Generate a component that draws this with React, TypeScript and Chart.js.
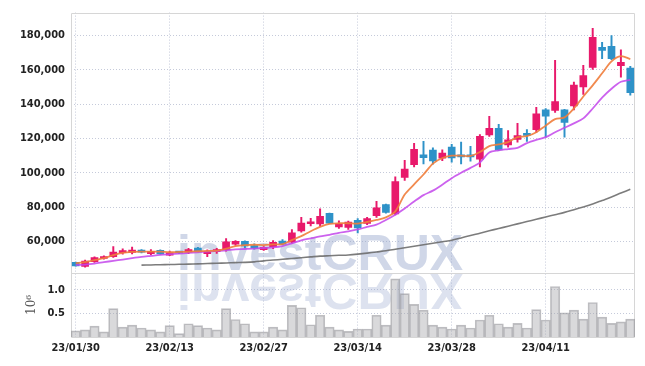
import React, { useEffect, useRef } from 'react';
import { Chart, registerables } from 'chart.js';

Chart.register(...registerables);

const DATES = [
  '23/01/30', '23/01/31', '23/02/01', '23/02/02', '23/02/03',
  '23/02/06', '23/02/07', '23/02/08', '23/02/09', '23/02/10',
  '23/02/13', '23/02/14', '23/02/15', '23/02/16', '23/02/17',
  '23/02/20', '23/02/21', '23/02/22', '23/02/23', '23/02/24',
  '23/02/27', '23/02/28', '23/03/02', '23/03/03',
  '23/03/06', '23/03/07', '23/03/08', '23/03/09', '23/03/10',
  '23/03/13', '23/03/14', '23/03/15', '23/03/16', '23/03/17',
  '23/03/20', '23/03/21', '23/03/22', '23/03/23', '23/03/24',
  '23/03/27', '23/03/28', '23/03/29', '23/03/30', '23/03/31',
  '23/04/03', '23/04/04', '23/04/05', '23/04/06', '23/04/07',
  '23/04/10', '23/04/11', '23/04/12', '23/04/13', '23/04/14',
  '23/04/17', '23/04/18', '23/04/19', '23/04/20', '23/04/21',
  '23/04/24',
];

const OPEN = [
  47800, 45400, 48200, 50000, 51100, 53400, 53500, 54400, 52900, 54800,
  52000, 53400, 53700, 56100, 52900, 54000, 55100, 58300, 60000, 57500,
  55200, 56900, 60200, 59600, 66100, 70300, 70200, 76300, 68400, 68100,
  72300, 70400, 75000, 81500, 76000, 97300, 104800, 110500, 113300, 108500,
  115000, 110500, 110300, 107900, 122100, 125900, 116300, 119400, 123000, 125200,
  136700, 136300, 136700, 139000, 150000, 161500, 173200, 173800, 162500, 161100,
];
const HIGH = [
  48000, 49100, 51000, 51600, 56900, 55700, 56700, 55200, 55200, 55000,
  54300, 54000, 56000, 56500, 55000, 56000, 61700, 60500, 60300, 58500,
  57000, 60400, 61000, 66900, 74000, 73500, 79000, 76500, 72000, 71800,
  73300, 74000, 83300, 81800, 97700, 107300, 117100, 118300, 114500, 113400,
  116600, 117900, 115400, 122300, 132900, 128200, 124600, 128800, 125200, 138200,
  137500, 165600, 137000, 152900, 162700, 184200, 176100, 180000, 171700, 162100,
];
const LOW = [
  45500, 44900, 47800, 49600, 50600, 52500, 52700, 53300, 52300, 52500,
  51600, 52800, 52900, 53800, 51100, 53000, 54300, 57700, 56200, 55500,
  54800, 55800, 58000, 58900, 65300, 69000, 68900, 70300, 67500, 67000,
  65000, 69800, 74000, 76500, 75500, 95500, 103400, 105200, 105000, 107000,
  106200, 105200, 106700, 103400, 121200, 113000, 115000, 117900, 118300, 123600,
  120800, 135200, 120800, 136700, 145700, 160200, 166500, 166000, 155800, 145200,
];
const CLOSE = [
  45700, 48500, 50500, 51100, 53800, 54000, 54900, 53700, 54200, 52700,
  53300, 53200, 55200, 54200, 54000, 54700, 59800, 60000, 57300, 56000,
  56500, 59400, 58300, 65000, 70600, 71100, 74600, 70600, 70200, 71300,
  67900, 73300, 79600, 76900, 94800, 102100, 113700, 108800, 106900, 111500,
  108600, 109300, 109300, 121300, 125900, 113400, 119200, 121700, 121800, 134400,
  133000, 141500, 129400, 151200, 156700, 179000, 171400, 166500, 164400, 146700,
];

// volume, in millions of shares
const VOLUME = [
  0.13, 0.15, 0.23, 0.11, 0.60, 0.21, 0.25, 0.19, 0.15, 0.11,
  0.24, 0.07, 0.28, 0.24, 0.19, 0.15, 0.60, 0.37, 0.28, 0.11,
  0.11, 0.21, 0.15, 0.67, 0.62, 0.26, 0.46, 0.21, 0.15, 0.12,
  0.17, 0.17, 0.46, 0.25, 1.23, 0.92, 0.69, 0.57, 0.25, 0.21,
  0.17, 0.25, 0.19, 0.36, 0.46, 0.28, 0.21, 0.29, 0.19, 0.58,
  0.36, 1.07, 0.51, 0.57, 0.38, 0.73, 0.42, 0.29, 0.32, 0.38,
];

const MA_SHORT = [
  47310, 47880, 49040, 50190, 51920, 53250, 53830, 54000, 54000, 54000,
  53660, 53830, 54000, 54230, 54410, 54580, 55800, 57290, 57870, 58040,
  57870, 58230, 58400, 60750, 63050, 65940, 68440, 70170, 70560, 70560,
  70380, 71300, 72470, 74020, 77480, 87300, 93230, 99000, 105350, 108630,
  109960, 109960, 109790, 112100, 115560, 116540, 117870, 120750, 121330, 123640,
  127500, 131310, 132290, 137500, 144500, 151000, 158000, 165000, 168000, 166300,
];
const MA_MID = [
  46160, 46500, 47080, 47880, 48640, 49390, 50200, 50940, 51520, 52100,
  52500, 52850, 53250, 53660, 54000, 54410, 54810, 55390, 55560, 55750,
  56140, 56540, 57290, 58840, 60580, 61740, 62890, 63850, 65000, 65770,
  66930, 68430, 69800, 72470, 75550, 79220, 83250, 86980, 89600, 93060,
  96810, 99980, 102870, 105940, 111810, 113080, 113830, 114580, 117300, 119200,
  120750, 123640, 126230, 128830, 131710, 137480, 143830, 149020, 153060, 154210,
];
const MA_LONG = [
  null, null, null, null, null, null, null, 46160, 46270, 46390,
  46500, 46620, 46730, 46900, 47080, 47250, 47420, 47600, 47770, 48060,
  48640, 49100, 49560, 50020, 50480, 50940, 51410, 51640, 51870, 52100,
  52560, 53140, 53830, 54520, 55390, 56250, 57120, 58040, 58910, 59830,
  60640, 62020, 63470, 64790, 66180, 67510, 68830, 70220, 71540, 72870,
  74250, 75580, 76910, 78470, 80080, 81810, 83830, 85850, 88160, 90410,
];

const PRICE_TICKS = [60000, 80000, 100000, 120000, 140000, 160000, 180000];
const VOLUME_TICKS = [0.5, 1.0];

const UP = '#e8196b';
const DOWN = '#2e92c8';
const GRID = 'rgba(178,184,206,0.75)';
const FRAME = '#d6d6d6';
const TICK_FONT = { family: '"DejaVu Sans Condensed", "DejaVu Sans", sans-serif', size: 11, weight: 'bold' as const };

const overlay = {
  id: 'overlay',
  beforeDatasetsDraw(chart: any) {
    const { ctx, chartArea } = chart;
    const yMain = chart.scales.y;
    ctx.save();
    // watermark
    ctx.font = 'bold 50px "Liberation Sans", Arial, sans-serif';
    ctx.textBaseline = 'alphabetic';
    const base = yMain.bottom - 3;
    const left = chartArea.left + 106;
    ctx.fillStyle = 'rgba(150,166,205,0.45)';
    ctx.fillText('investCRUX', left, base);
    ctx.save();
    ctx.translate(0, 2 * (base + 2));
    ctx.scale(1, -1);
    ctx.fillStyle = 'rgba(150,166,205,0.32)';
    ctx.fillText('investCRUX', left, base);
    ctx.restore();
    // frame
    ctx.strokeStyle = FRAME;
    ctx.lineWidth = 1;
    ctx.beginPath();
    ctx.rect(Math.round(chartArea.left) + 0.5, Math.round(chartArea.top) + 0.5,
      Math.round(chartArea.right - chartArea.left) - 1, Math.round(chartArea.bottom - chartArea.top));
    ctx.moveTo(chartArea.left, Math.round(yMain.bottom) + 0.5);
    ctx.lineTo(chartArea.right, Math.round(yMain.bottom) + 0.5);
    ctx.stroke();
    ctx.restore();
  },
};

export default function App() {
  const ref = useRef<HTMLCanvasElement | null>(null);

  useEffect(() => {
    document.body.style.margin = '0';
    const canvas = ref.current;
    if (!canvas) return;
    const candleColors = OPEN.map((o, i) => (CLOSE[i] >= o ? UP : DOWN));

    const chart = new Chart(canvas, {
      type: 'bar',
      data: {
        labels: DATES,
        datasets: [
          {
            type: 'line', label: 'MA short', data: MA_SHORT, yAxisID: 'y',
            borderColor: 'rgba(240,125,60,0.9)', borderWidth: 1.8, pointRadius: 0,
            tension: 0.3, order: 1,
          } as any,
          {
            type: 'line', label: 'MA mid', data: MA_MID, yAxisID: 'y',
            borderColor: 'rgba(195,70,235,0.85)', borderWidth: 1.8, pointRadius: 0,
            tension: 0.3, order: 1,
          } as any,
          {
            type: 'line', label: 'MA long', data: MA_LONG, yAxisID: 'y',
            borderColor: 'rgba(110,110,110,0.9)', borderWidth: 1.6, pointRadius: 0,
            tension: 0.3, order: 1,
          } as any,
          {
            type: 'bar', label: 'body', data: OPEN.map((o, i) => [o, CLOSE[i]]), yAxisID: 'y',
            backgroundColor: candleColors, borderWidth: 0, barThickness: 7, minBarLength: 2,
            grouped: false, order: 3,
          } as any,
          {
            type: 'bar', label: 'wick', data: LOW.map((l, i) => [l, HIGH[i]]), yAxisID: 'y',
            backgroundColor: candleColors, borderWidth: 0, barThickness: 1.3,
            grouped: false, order: 4,
          } as any,
          {
            type: 'bar', label: 'volume', data: VOLUME, yAxisID: 'yv',
            backgroundColor: 'rgba(165,165,170,0.42)', borderColor: 'rgba(140,140,145,0.55)',
            borderWidth: 1, barPercentage: 1, categoryPercentage: 1,
            grouped: false, order: 5,
          } as any,
        ],
      },
      options: {
        responsive: false,
        animation: false,
        devicePixelRatio: 1,
        layout: { padding: { top: 9, right: 10, left: 0, bottom: 0 } },
        plugins: { legend: { display: false }, tooltip: { enabled: false } },
        scales: {
          x: {
            offset: true,
            grid: {
              offset: false,
              drawTicks: false,
              color: (c: any) => (c.index % 10 === 0 ? GRID : 'rgba(0,0,0,0)'),
            },
            border: { display: false, dash: [1, 2] },
            ticks: {
              autoSkip: false, maxRotation: 0, padding: 5,
              color: '#222', font: TICK_FONT,
              callback: (_v: any, i: number) => (i % 10 === 0 ? DATES[i] : ''),
            },
            afterFit: (s: any) => { s.height = 29; },
          },
          yv: {
            type: 'linear', position: 'left', stack: 'panes', stackWeight: 1,
            min: 0, max: 1.36,
            afterBuildTicks: (s: any) => { s.ticks = VOLUME_TICKS.map((v) => ({ value: v })); },
            grid: { color: GRID, drawTicks: false },
            border: { display: false, dash: [1, 2] },
            ticks: { padding: 6, color: '#222', font: TICK_FONT, callback: (v: any) => Number(v).toFixed(1) },
            title: {
              display: true, text: '10⁶', color: '#555',
              font: { family: '"DejaVu Serif", serif', size: 12 },
              padding: { top: 25, bottom: 0 },
            },
            afterFit: (s: any) => { s.width = 71; },
          },
          y: {
            type: 'linear', position: 'left', stack: 'panes', stackWeight: 4.05,
            min: 41700, max: 193400,
            afterBuildTicks: (s: any) => { s.ticks = PRICE_TICKS.map((v) => ({ value: v })); },
            grid: { color: GRID, drawTicks: false },
            border: { display: false, dash: [1, 2] },
            ticks: { padding: 6, color: '#222', font: TICK_FONT, callback: (v: any) => Number(v).toLocaleString('en-US') },
            afterFit: (s: any) => { s.width = 71; },
          },
        },
      } as any,
      plugins: [overlay],
    });
    return () => chart.destroy();
  }, []);

  return <canvas ref={ref} width={645} height={366} style={{ display: 'block' }} />;
}
